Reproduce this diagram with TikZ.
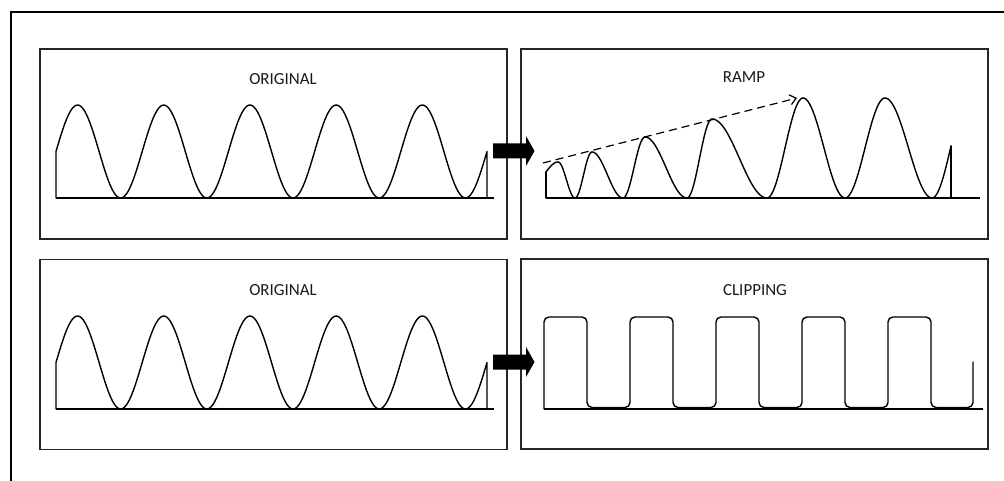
\documentclass[tikz,border=0pt]{standalone}
\usepackage{fontspec}
\setmainfont{Carlito}
\usetikzlibrary{arrows.meta}

% one half-cycle of a wave between two extrema (cosine easing)
\newcommand\halfcycle[4]{%
  \draw[wave] plot[domain=0:1,samples=32,variable=\t]
    ({#1+(#3-#1)*\t},{#2+(#4-#2)*(1-cos(180*\t))/2});}

% the unmodified sine wave with its base line
\newcommand\plainwave{%
  \draw[axis] (56,198) -- (494,198);
  \draw[wave] (56,198) -- (56,151.5)
    -- plot[domain=56:487,samples=240] (\x,{151.5-46.5*sin((\x-56)/86.2*360)})
    -- (487,198);}

% thick block arrow between the two panels of a row
\newcommand\blockarrow[1]{%
  \begin{scope}[shift={(0,#1)}]
    \fill[black] (493,-7.5) -- (526,-7.5) -- (526,-15) -- (534.5,0)
      -- (526,15) -- (526,7.5) -- (493,7.5) -- cycle;
  \end{scope}}

\begin{document}
\begin{tikzpicture}[x=1bp,y=-1bp,
  panel/.style={draw=black!85,line width=1.2bp,minimum width=467bp,
    minimum height=190bp,inner sep=0pt,outer sep=0pt},
  caption/.style={font=\fontsize{17}{20}\selectfont,inner sep=0pt,text=black!90},
  wave/.style={draw=black,line width=1.4bp,line cap=round,line join=round},
  axis/.style={draw=black,line width=1.4bp},
  guide/.style={draw=black,line width=1.2bp,dash pattern=on 8bp off 5bp,
    -{Straight Barb[length=6bp,width=10bp]}}]

\useasboundingbox (0,0) rectangle (1004,481);

% outer frame (only top and left edges fall on the page)
\draw[line width=2bp] (1010,12) -- (11,12) -- (11,490);

% panels
\node[panel] (origA) at (273.5,144) {};
\node[panel] (ramp)  at (754.5,144) {};
\node[panel] (origB) at (273.5,354.5) {};
\node[panel] (clip)  at (754.5,354) {};

% captions
\node[caption] (capA) at (283,79)  {ORIGINAL};
\node[caption] (capR) at (744,77)  {RAMP};
\node[caption] (capB) at (283,290) {ORIGINAL};
\node[caption] (capC) at (755,290) {CLIPPING};

% original waves
\plainwave
\begin{scope}[shift={(0,211)}]
  \plainwave
\end{scope}

% ramped wave
\draw[axis] (546,198) -- (980,198);
\draw[wave] (546,198) -- (546,172);
\draw[wave] plot[domain=0:1,samples=20,variable=\t] ({546+12*\t},{172-10*sin(90*\t)});
\halfcycle{558}{162}{575}{198}
\halfcycle{575}{198}{592}{152}
\halfcycle{592}{152}{623}{198}
\halfcycle{623}{198}{645}{137}
\halfcycle{645}{137}{687}{198}
\halfcycle{687}{198}{712}{119}
\halfcycle{712}{119}{767}{198}
\halfcycle{767}{198}{803}{98}
\halfcycle{803}{98}{845}{198}
\halfcycle{845}{198}{885}{98}
\halfcycle{885}{98}{932}{198}
\draw[wave] plot[domain=0:1,samples=20,variable=\t] ({932+19*\t},{198-52*(1-cos(90*\t))});
\draw[wave] (951,146) -- (951,198);

% ramp envelope
\coordinate (rampStart) at (543,163);
\coordinate (rampEnd) at (797,98);
\draw[guide] (rampStart) -- (rampEnd);

% clipped wave
\draw[axis] (544,409) -- (983,409);
\draw[wave,rounded corners=5bp] (544,409) -- (544,317) -- (587,317) -- (587,407.5)
  -- (630,407.5) -- (630,317) -- (673,317) -- (673,407.5)
  -- (716,407.5) -- (716,317) -- (759,317) -- (759,407.5)
  -- (802,407.5) -- (802,317) -- (845,317) -- (845,407.5)
  -- (888,407.5) -- (888,317) -- (931,317) -- (931,407.5)
  -- (973,407.5) -- (973,362);

% transition arrows
\blockarrow{151}
\blockarrow{362}

\end{tikzpicture}
\end{document}
